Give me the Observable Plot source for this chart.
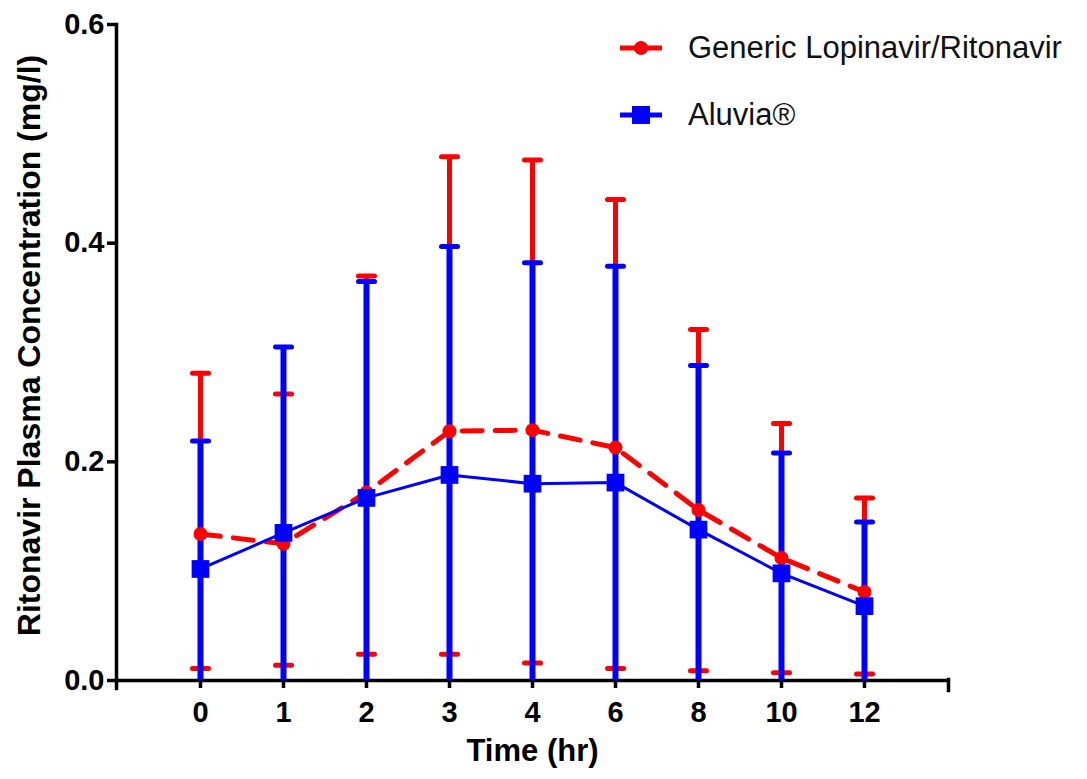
<!DOCTYPE html>
<html>
<head>
<meta charset="utf-8">
<script src="https://cdn.jsdelivr.net/npm/d3@7"></script>
<script src="https://cdn.jsdelivr.net/npm/@observablehq/plot@0.6"></script>
<style>
  html, body { margin: 0; padding: 0; background: #fff; }
  #wrap { position: relative; width: 1087px; height: 779px; font-family: "Liberation Sans", Arial, sans-serif; }
  #legend { position: absolute; left: 618px; top: 26px; font-size: 31px; color: #111; }
  .item { display: flex; align-items: center; height: 44px; margin-bottom: 23px; }
  .item svg { margin-right: 24px; }
</style>
</head>
<body>
<div id="wrap">
  <div id="chart"></div>
  <div id="legend"></div>
</div>
<script>
const times = ["0", "1", "2", "3", "4", "6", "8", "10", "12"];
const genericMean  = [0.134, 0.125, 0.172, 0.228, 0.229, 0.213, 0.156, 0.112, 0.081];
const genericUpper = [0.281, 0.262, 0.370, 0.479, 0.476, 0.440, 0.321, 0.235, 0.167];
const genericLower = [0.011, 0.014, 0.024, 0.024, 0.016, 0.011, 0.009, 0.007, 0.006];
const aluviaMean   = [0.102, 0.135, 0.167, 0.188, 0.180, 0.181, 0.138, 0.098, 0.068];
const aluviaUpper  = [0.219, 0.305, 0.365, 0.397, 0.382, 0.379, 0.288, 0.208, 0.145];
const aluviaLower  = [0, 0, 0, 0, 0, 0, 0, 0, 0];
const yTicks = [0, 0.2, 0.4, 0.6];
const seriesNames = ["Generic Lopinavir/Ritonavir", "Aluvia®"];

const RED = "#ff0000", BLUE = "#0000ff";

const generic = times.map((t, i) => ({t, mean: genericMean[i], lo: genericLower[i], hi: genericUpper[i]}));
const aluvia  = times.map((t, i) => ({t, mean: aluviaMean[i], lo: aluviaLower[i], hi: aluviaUpper[i]}));

const font = '"Liberation Sans", Arial, sans-serif';

// horizontal bar symbol for error-bar caps
const capSymbol = {
  draw(context, size) {
    const w = Math.sqrt(size / Math.PI);
    context.moveTo(-w, 0);
    context.lineTo(w, 0);
  }
};
const cap = (data, y, color) => Plot.dot(data, {x: "t", y, r: 8, symbol: capSymbol, fill: "none",
  stroke: color, strokeWidth: 5, strokeLinecap: "round"});

const chart = Plot.plot({
  width: 1087,
  height: 779,
  marginLeft: 116,
  marginRight: 139,
  marginTop: 24,
  marginBottom: 99,
  style: {fontFamily: font, background: "#fff", color: "#000"},
  x: {type: "point", domain: times, padding: 1},
  y: {domain: [0, 0.6]},
  marks: [
    // axes
    Plot.axisY({ticks: yTicks, tickFormat: d3.format(".1f"), tickSize: 9, tickPadding: 3, strokeWidth: 3.5,
      fontSize: 29, fontWeight: "bold", label: null}),
    Plot.axisX({tickSize: 8, tickPadding: 13, strokeWidth: 3.5, fontSize: 29, fontWeight: "bold", label: null}),
    Plot.frame({anchor: "left", strokeWidth: 3.5, insetBottom: -8}),
    Plot.ruleY([0], {strokeWidth: 3.5}),
    Plot.frame({anchor: "right", strokeWidth: 3.5, insetTop: 655, insetBottom: -10}),
    // generic error bars (behind)
    Plot.ruleX(generic, {x: "t", y1: "lo", y2: "hi", stroke: RED, strokeWidth: 5}),
    cap(generic, "hi", RED),
    cap(generic, "lo", RED),
    // aluvia error bars
    Plot.ruleX(aluvia, {x: "t", y1: "lo", y2: "hi", stroke: BLUE, strokeWidth: 6}),
    cap(aluvia, "hi", BLUE),
    // generic line
    Plot.line(generic, {x: "t", y: "mean", stroke: RED, strokeWidth: 5, strokeDasharray: "20,13"}),
    Plot.dot(generic, {x: "t", y: "mean", r: 7, fill: RED, symbol: "circle"}),
    // aluvia line
    Plot.line(aluvia, {x: "t", y: "mean", stroke: BLUE, strokeWidth: 3}),
    Plot.dot(aluvia, {x: "t", y: "mean", r: 10, fill: BLUE, symbol: "square"}),
    // titles
    Plot.text(["Ritonavir Plasma Concentration (mg/l)"], {frameAnchor: "left", rotate: -90, dx: -87, dy: -7,
      textAnchor: "middle", lineAnchor: "middle",
      fontSize: 32, fontWeight: "bold", fill: "#000", text: d => d}),
    Plot.text(["Time (hr)"], {frameAnchor: "bottom", dy: 71, lineAnchor: "middle",
      fontSize: 31, fontWeight: "bold", fill: "#000", text: d => d})
  ]
});
document.getElementById("chart").appendChild(chart);

// legend
const legend = document.getElementById("legend");
const colors = [RED, BLUE];
seriesNames.forEach((name, i) => {
  const item = document.createElement("div");
  item.className = "item";
  const sw = d3.create("svg").attr("width", 46).attr("height", 20);
  sw.append("line").attr("x1", 2).attr("x2", 44).attr("y1", 10).attr("y2", 10)
    .attr("stroke", colors[i]).attr("stroke-width", 5);
  if (i === 0) sw.append("circle").attr("cx", 23).attr("cy", 10).attr("r", 7).attr("fill", colors[i]);
  else sw.append("rect").attr("x", 14).attr("y", 1).attr("width", 18).attr("height", 18).attr("fill", colors[i]);
  item.appendChild(sw.node());
  const span = document.createElement("span");
  span.textContent = name;
  item.appendChild(span);
  legend.appendChild(item);
});
</script>
</body>
</html>
